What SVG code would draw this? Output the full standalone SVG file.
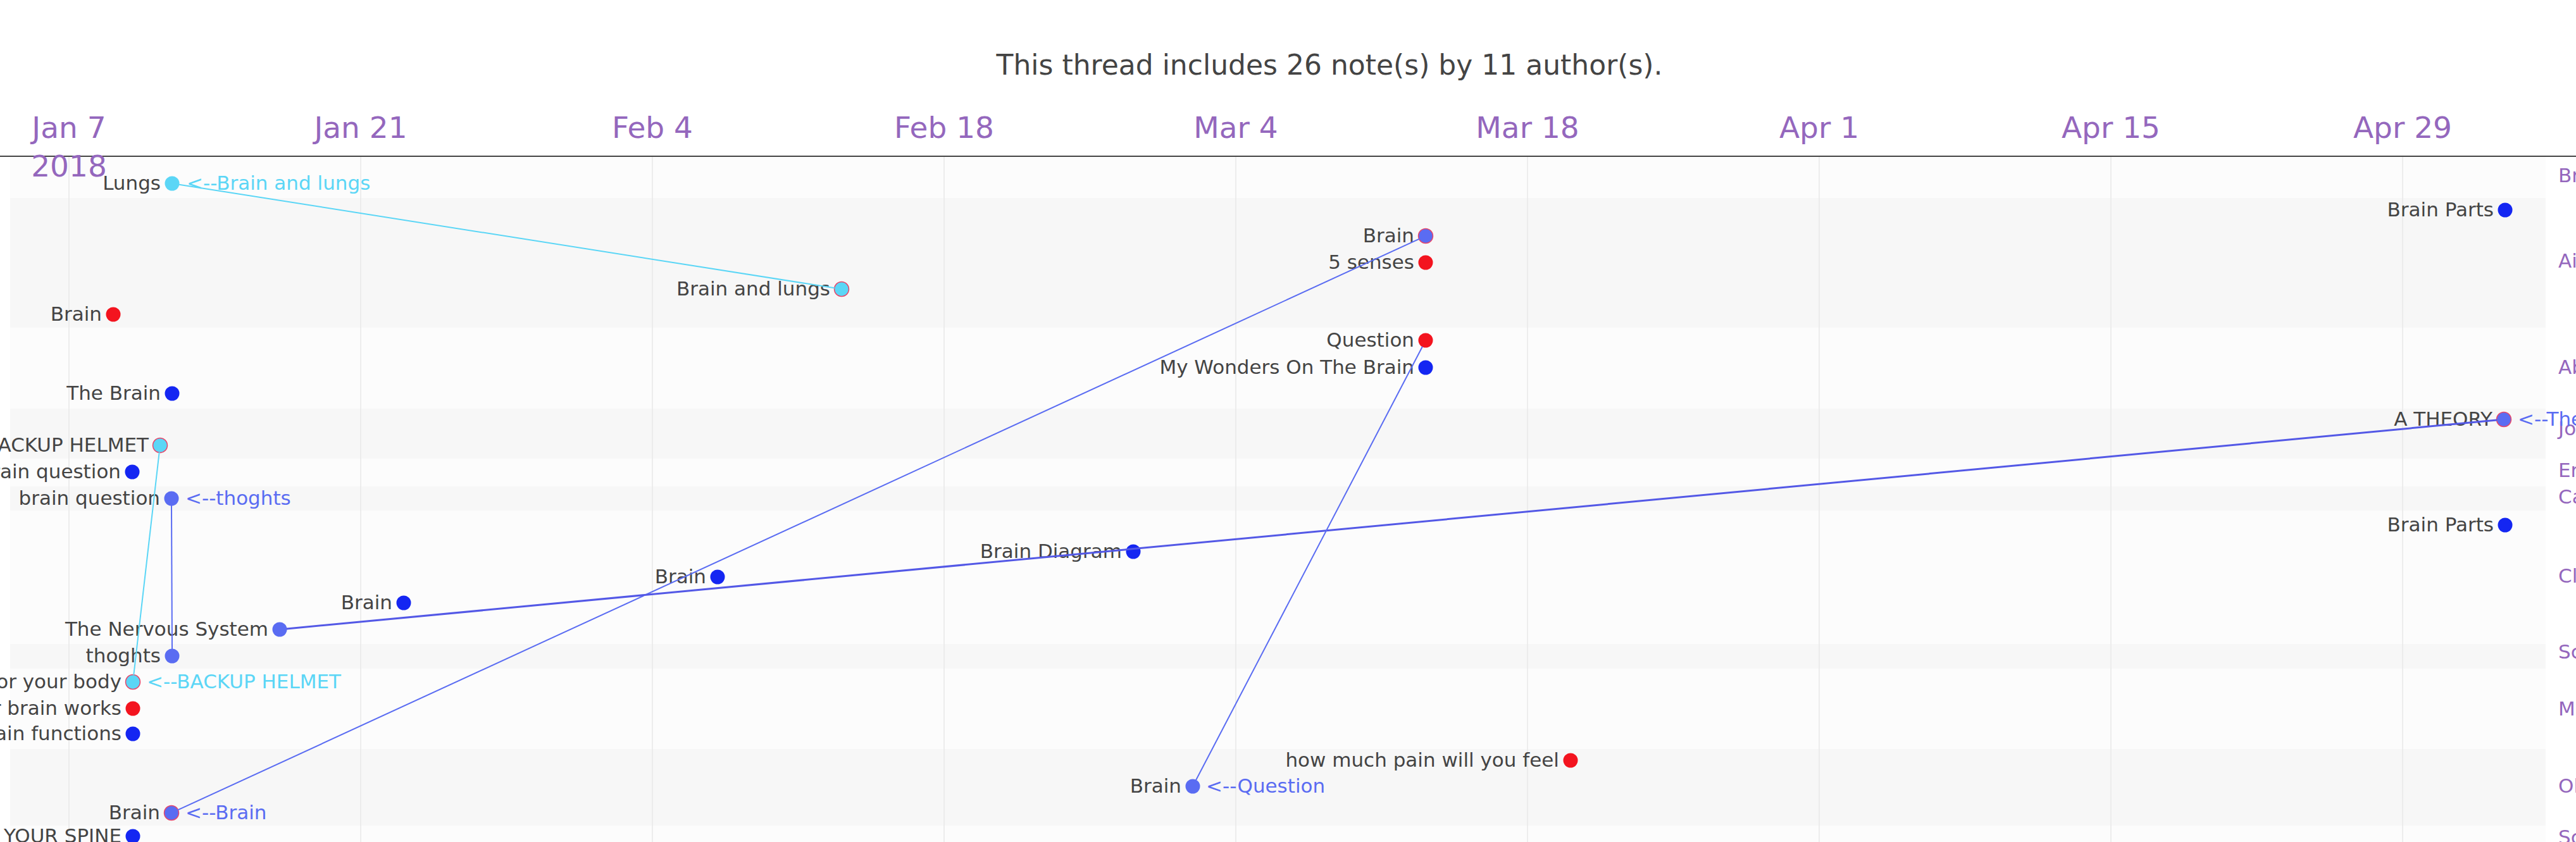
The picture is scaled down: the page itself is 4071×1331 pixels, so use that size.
<svg xmlns="http://www.w3.org/2000/svg" width="4071" height="1331" viewBox="0 0 4071 1331">
<style>
text{font-family:"DejaVu Sans",Verdana,sans-serif}
.title{font-size:44px;fill:#444;text-anchor:middle}
.tick{font-size:47px;fill:#9467bd;text-anchor:middle}
.auth{font-size:31px;fill:#9467bd}
.lbl{font-size:31px;fill:#444;text-anchor:end}
.ann{font-size:31px}
.bw{fill:#fcfcfc}
.bg{fill:#f7f7f7}
.grid{stroke:#e8e8e8;stroke-width:1.5}
.cyan{fill:#5bd6f6}
.blue{fill:#1426f2}
.red{fill:#f3141f}
.peri{fill:#5a6cf2}
.ol{stroke:#e8466a;stroke-width:1.5}
.tcyan{fill:#5bd6f6}
.tperi{fill:#5a6cf2}
.lc{stroke:#5bd6f6;stroke-width:2;fill:none}
.lp{stroke:#5a6cf2;stroke-width:2;fill:none}
.lp3{stroke:#5358e6;stroke-width:3;fill:none}
</style>
<rect width="4071" height="1331" fill="#ffffff"/>
<g id="bands">
<rect class="bw" x="16" y="248" width="4007" height="65"/>
<rect class="bg" x="16" y="313" width="4007" height="205"/>
<rect class="bw" x="16" y="518" width="4007" height="128"/>
<rect class="bg" x="16" y="646" width="4007" height="79"/>
<rect class="bw" x="16" y="725" width="4007" height="44"/>
<rect class="bg" x="16" y="769" width="4007" height="38"/>
<rect class="bw" x="16" y="807" width="4007" height="211"/>
<rect class="bg" x="16" y="1018" width="4007" height="39"/>
<rect class="bw" x="16" y="1057" width="4007" height="127"/>
<rect class="bg" x="16" y="1184" width="4007" height="121"/>
<rect class="bw" x="16" y="1305" width="4007" height="26"/>
</g>
<g id="grid">
<line class="grid" x1="109" y1="248" x2="109" y2="1331"/>
<line class="grid" x1="570" y1="248" x2="570" y2="1331"/>
<line class="grid" x1="1031" y1="248" x2="1031" y2="1331"/>
<line class="grid" x1="1492" y1="248" x2="1492" y2="1331"/>
<line class="grid" x1="1953" y1="248" x2="1953" y2="1331"/>
<line class="grid" x1="2414" y1="248" x2="2414" y2="1331"/>
<line class="grid" x1="2875" y1="248" x2="2875" y2="1331"/>
<line class="grid" x1="3336" y1="248" x2="3336" y2="1331"/>
<line class="grid" x1="3797" y1="248" x2="3797" y2="1331"/>
</g>
<line id="axis" x1="0" y1="247" x2="4071" y2="247" stroke="#444" stroke-width="2"/>
<text class="title" x="2101" y="118">This thread includes 26 note(s) by 11 author(s).</text>
<g id="ticks">
<text class="tick" x="109" y="218">Jan 7</text>
<text class="tick" x="109" y="279">2018</text>
<text class="tick" x="570" y="218">Jan 21</text>
<text class="tick" x="1031" y="218">Feb 4</text>
<text class="tick" x="1492" y="218">Feb 18</text>
<text class="tick" x="1953" y="218">Mar 4</text>
<text class="tick" x="2414" y="218">Mar 18</text>
<text class="tick" x="2875" y="218">Apr 1</text>
<text class="tick" x="3336" y="218">Apr 15</text>
<text class="tick" x="3797" y="218">Apr 29</text>
</g>
<g id="authors">
<text class="auth" x="4043" y="288">Br</text>
<text class="auth" x="4043" y="423">Ai</text>
<text class="auth" x="4043" y="591">Ab</text>
<text class="auth" x="4043" y="688">Jo</text>
<text class="auth" x="4043" y="754">Er</text>
<text class="auth" x="4043" y="796">Ca</text>
<text class="auth" x="4043" y="921">Cl</text>
<text class="auth" x="4043" y="1041">Sc</text>
<text class="auth" x="4043" y="1131">Ma</text>
<text class="auth" x="4043" y="1253">Ol</text>
<text class="auth" x="4043" y="1334">Sc</text>
</g>
<g id="n1"><text class="lbl" x="254" y="300">Lungs</text><circle class="cyan" cx="272" cy="290" r="11.5"/><text class="ann tcyan" x="295" y="300">&lt;--Brain and lungs</text></g>
<g id="n2"><text class="lbl" x="1312" y="467">Brain and lungs</text><circle class="cyan ol" cx="1330" cy="457" r="11.5"/></g>
<g id="n3"><text class="lbl" x="161" y="507">Brain</text><circle class="red" cx="179" cy="497" r="11.5"/></g>
<g id="n4"><text class="lbl" x="254" y="632">The Brain</text><circle class="blue" cx="272" cy="622" r="11.5"/></g>
<g id="n5"><text class="lbl" x="235" y="714">BACKUP HELMET</text><circle class="cyan ol" cx="253" cy="704" r="11.5"/></g>
<g id="n6"><text class="lbl" x="191" y="756">rain question</text><circle class="blue" cx="209" cy="746" r="11.5"/></g>
<g id="n7"><text class="lbl" x="253" y="798">brain question</text><circle class="peri" cx="271" cy="788" r="11.5"/><text class="ann tperi" x="293" y="798">&lt;--thoghts</text></g>
<g id="n8"><text class="lbl" x="424" y="1005">The Nervous System</text><circle class="peri" cx="442" cy="995" r="11.5"/></g>
<g id="n9"><text class="lbl" x="254" y="1047">thoghts</text><circle class="peri" cx="272" cy="1037" r="11.5"/></g>
<g id="n10"><text class="lbl" x="192" y="1088">or your body</text><circle class="cyan ol" cx="210" cy="1078" r="11.5"/><text class="ann tcyan" x="232" y="1088">&lt;--BACKUP HELMET</text></g>
<g id="n11"><text class="lbl" x="192" y="1130">r brain works</text><circle class="red" cx="210" cy="1120" r="11.5"/></g>
<g id="n12"><text class="lbl" x="192" y="1170">ain functions</text><circle class="blue" cx="210" cy="1160" r="11.5"/></g>
<g id="n13"><text class="lbl" x="253" y="1295">Brain</text><circle class="peri ol" cx="271" cy="1285" r="11.5"/><text class="ann tperi" x="293" y="1295">&lt;--Brain</text></g>
<g id="n14"><text class="lbl" x="192" y="1332">YOUR SPINE</text><circle class="blue" cx="210" cy="1322" r="11.5"/></g>
<g id="n15"><text class="lbl" x="620" y="963">Brain</text><circle class="blue" cx="638" cy="953" r="11.5"/></g>
<g id="n16"><text class="lbl" x="1116" y="922">Brain</text><circle class="blue" cx="1134" cy="912" r="11.5"/></g>
<g id="n17"><text class="lbl" x="1773" y="882">Brain Diagram</text><circle class="blue" cx="1791" cy="872" r="11.5"/></g>
<g id="n18"><text class="lbl" x="2235" y="383">Brain</text><circle class="peri ol" cx="2253" cy="373" r="11.5"/></g>
<g id="n19"><text class="lbl" x="2235" y="425">5 senses</text><circle class="red" cx="2253" cy="415" r="11.5"/></g>
<g id="n20"><text class="lbl" x="2235" y="548">Question</text><circle class="red" cx="2253" cy="538" r="11.5"/></g>
<g id="n21"><text class="lbl" x="2235" y="591">My Wonders On The Brain</text><circle class="blue" cx="2253" cy="581" r="11.5"/></g>
<g id="n22"><text class="lbl" x="2464" y="1212">how much pain will you feel</text><circle class="red" cx="2482" cy="1202" r="11.5"/></g>
<g id="n23"><text class="lbl" x="1867" y="1253">Brain</text><circle class="peri" cx="1885" cy="1243" r="11.5"/><text class="ann tperi" x="1906" y="1253">&lt;--Question</text></g>
<g id="n24"><text class="lbl" x="3941" y="342">Brain Parts</text><circle class="blue" cx="3959" cy="332" r="11.5"/></g>
<g id="n25"><text class="lbl" x="3939" y="673">A THEORY</text><circle class="peri ol" cx="3957" cy="663" r="11.5"/><text class="ann tperi" x="3979" y="673">&lt;--The Nervous System</text></g>
<g id="n26"><text class="lbl" x="3941" y="840">Brain Parts</text><circle class="blue" cx="3959" cy="830" r="11.5"/></g>
<g id="connectors">
<line class="lc" x1="283" y1="291.7" x2="1319" y2="455.3"/>
<line class="lc" x1="251.7" y1="715" x2="211.3" y2="1067"/>
<line class="lp" x1="271" y1="799" x2="272" y2="1026"/>
<line class="lp" x1="281" y1="1280.4" x2="2243" y2="377.6"/>
<line class="lp3" x1="453" y1="994" x2="3946" y2="664"/>
<line class="lp" x1="2248" y1="547.8" x2="1890" y2="1233.2"/>
</g>
</svg>
